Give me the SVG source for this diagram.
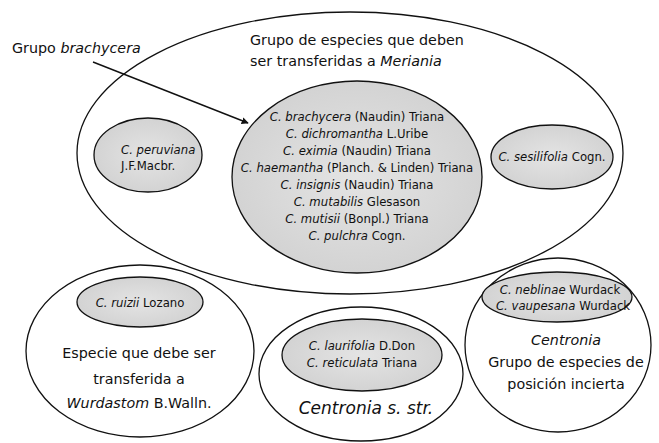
<svg xmlns="http://www.w3.org/2000/svg" width="659" height="443" viewBox="0 0 659 443">
<style>
.outer{fill:none;stroke:#111;stroke-width:1.3}
.inner{fill:url(#gfill);stroke:#111;stroke-width:1.3}
text{font-family:"DejaVu Sans",sans-serif;fill:#111;text-anchor:middle}
.sp{font-size:11.7px}
.big{font-size:14.3px}
.it{font-style:italic}
</style>
<defs>
<radialGradient id="gfill" cx="50%" cy="50%" r="50%">
<stop offset="0" stop-color="#e4e4e4"/>
<stop offset="1" stop-color="#d3d3d3"/>
</radialGradient>
<marker id="ah" viewBox="0 0 10 10" refX="9" refY="5" markerWidth="7" markerHeight="7" orient="auto" markerUnits="userSpaceOnUse">
<path d="M0,0 L10,5 L0,10 z" fill="#111"/>
</marker>
</defs>
<rect width="659" height="443" fill="#fff"/>

<g id="meriania">
<ellipse class="outer" cx="350" cy="153" rx="273" ry="141"/>
<text class="big" x="250" y="45" style="text-anchor:start">Grupo de especies que deben</text>
<text class="big" x="250" y="66" style="text-anchor:start">ser transferidas a <tspan class="it">Meriania</tspan></text>
</g>

<g id="brachycera-group">
<ellipse class="inner" cx="357" cy="177" rx="125" ry="96"/>
<text class="sp" x="357" y="121"><tspan class="it">C. brachycera</tspan> (Naudin) Triana</text>
<text class="sp" x="357" y="138"><tspan class="it">C. dichromantha</tspan> L.Uribe</text>
<text class="sp" x="357" y="155"><tspan class="it">C. eximia</tspan> (Naudin) Triana</text>
<text class="sp" x="357" y="172"><tspan class="it">C. haemantha</tspan> (Planch. &amp; Linden) Triana</text>
<text class="sp" x="357" y="189"><tspan class="it">C. insignis</tspan> (Naudin) Triana</text>
<text class="sp" x="357" y="206"><tspan class="it">C. mutabilis</tspan> Glesason</text>
<text class="sp" x="357" y="223"><tspan class="it">C. mutisii</tspan> (Bonpl.) Triana</text>
<text class="sp" x="357" y="240"><tspan class="it">C. pulchra</tspan> Cogn.</text>
</g>

<g id="peruviana">
<ellipse class="inner" cx="148" cy="155" rx="54" ry="37"/>
<text class="sp it" x="121" y="154" style="text-anchor:start">C. peruviana</text>
<text class="sp" x="121" y="170" style="text-anchor:start">J.F.Macbr.</text>
</g>

<g id="sesilifolia">
<ellipse class="inner" cx="552" cy="157" rx="61" ry="32"/>
<text class="sp" x="552" y="161"><tspan class="it">C. sesilifolia</tspan> Cogn.</text>
</g>

<g id="brachycera-label">
<text class="big" x="12" y="53" style="text-anchor:start">Grupo <tspan class="it">brachycera</tspan></text>
</g>

<g id="wurdastom">
<ellipse class="outer" cx="140" cy="351" rx="114" ry="86"/>
<ellipse class="inner" cx="140" cy="302" rx="63" ry="25"/>
<text class="sp" x="140" y="307"><tspan class="it">C. ruizii</tspan> Lozano</text>
<text class="big" x="139" y="358">Especie que debe ser</text>
<text class="big" x="139" y="384">transferida a</text>
<text class="big" x="139" y="408"><tspan class="it">Wurdastom</tspan> B.Walln.</text>
</g>

<g id="centronia-str">
<ellipse class="outer" cx="361" cy="374" rx="102" ry="67"/>
<ellipse class="inner" cx="362" cy="355" rx="80" ry="36"/>
<text class="sp" x="362" y="350"><tspan class="it">C. laurifolia</tspan> D.Don</text>
<text class="sp" x="362" y="367"><tspan class="it">C. reticulata</tspan> Triana</text>
<text class="it" x="366" y="414" style="font-size:17px">Centronia s. str.</text>
</g>

<g id="centronia-incierta">
<ellipse class="outer" cx="558" cy="345" rx="93" ry="87"/>
<ellipse class="inner" cx="557" cy="297" rx="75" ry="25"/>
<text class="sp" x="560" y="294"><tspan class="it">C. neblinae</tspan> Wurdack</text>
<text class="sp" x="563" y="310"><tspan class="it">C. vaupesana</tspan> Wurdack</text>
<text class="big it" x="566" y="345">Centronia</text>
<text class="big" x="566" y="367">Grupo de especies de</text>
<text class="big" x="566" y="389">posición incierta</text>
</g>

<g id="connectors">
<line x1="93" y1="62" x2="248" y2="123" stroke="#111" stroke-width="1.4" marker-end="url(#ah)"/>
</g>
</svg>
